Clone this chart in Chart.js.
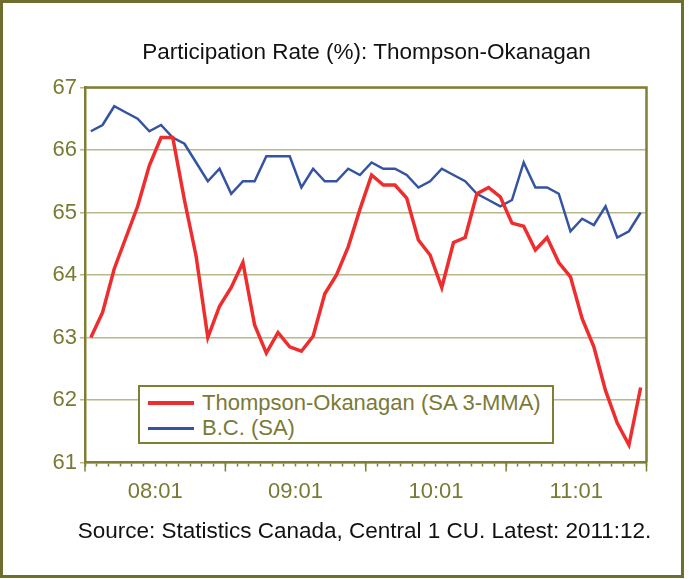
<!DOCTYPE html>
<html>
<head>
<meta charset="utf-8">
<script src="https://cdn.jsdelivr.net/npm/chart.js@4.4.1/dist/chart.umd.min.js"></script>
<style>
    body { margin: 0; background: #fff; }
    #wrap { position: relative; width: 693px; height: 579px; font-family: "Liberation Sans", Arial, sans-serif; }
    #frame { position: absolute; left: 0; top: 0; width: 684px; height: 578px; box-sizing: border-box; border: 3px solid #6e6e2e; pointer-events: none; }
    #chart { position: absolute; left: 0; top: 0; }
    .txt { position: absolute; left: 0; text-align: center; color: #111; font-size: 22.5px; line-height: 26px; white-space: nowrap; }
    #title { top: 39px; width: 733px; }
    #source { top: 518px; width: 729px; }
    #legend { position: absolute; left: 138px; top: 385px; width: 416px; height: 59px; box-sizing: border-box; border: 2px solid #7f7f34; background: #fff; }
    .row { position: absolute; left: 0; height: 26px; line-height: 26px; font-size: 22px; color: #7a7a35; white-space: nowrap; }
    .row span { position: absolute; left: 8px; top: 11px; width: 46px; }
    .row b { position: absolute; left: 62px; font-weight: normal; }
</style>
</head>
<body>
<div id="wrap">
    <canvas id="chart" width="693" height="579"></canvas>
    <div id="title" class="txt">Participation Rate (%): Thompson-Okanagan</div>
    <div id="legend">
        <div class="row" style="top:3px"><span style="height:4px;background:#ee2e2e;top:11px"></span><b>Thompson-Okanagan (SA 3-MMA)</b></div>
        <div class="row" style="top:28px"><span style="height:2.5px;background:#3553a3;top:12px"></span><b>B.C. (SA)</b></div>
    </div>
    <div id="source" class="txt">Source: Statistics Canada, Central 1 CU. Latest: 2011:12.</div>
    <div id="frame"></div>
</div>
<script>
// monthly, 2008:01 .. 2011:12
const thompsonOkanagan = [
    63.0, 63.4, 64.1, 64.6, 65.1, 65.75, 66.2, 66.2, 65.2, 64.3, 63.0, 63.5,
    63.8, 64.2, 63.2, 62.75, 63.08, 62.85, 62.78, 63.02, 63.7, 64.0, 64.45, 65.05,
    65.6, 65.44, 65.44, 65.23, 64.56, 64.32, 63.8, 64.52, 64.6, 65.3, 65.4, 65.25,
    64.83, 64.78, 64.4, 64.6, 64.2, 63.97, 63.3, 62.85, 62.15, 61.63, 61.28, 62.2
];
const bcRate = [
    66.3, 66.4, 66.7, 66.6, 66.5, 66.3, 66.4, 66.2, 66.1, 65.8, 65.5, 65.7,
    65.3, 65.5, 65.5, 65.9, 65.9, 65.9, 65.4, 65.7, 65.5, 65.5, 65.7, 65.6,
    65.8, 65.7, 65.7, 65.6, 65.4, 65.5, 65.7, 65.6, 65.5, 65.3, 65.2, 65.1,
    65.2, 65.8, 65.4, 65.4, 65.3, 64.7, 64.9, 64.8, 65.1, 64.6, 64.7, 65.0
];
const yearLabels = ['08:01', '09:01', '10:01', '11:01'];
const yTicks = [61, 62, 63, 64, 65, 66, 67];

const OLIVE = '#7f7f34';
const TICK_TEXT = '#7a7a35';
const GRID = '#b8b88a';
const FONT = '"Liberation Sans", Arial, sans-serif';

const toPoints = arr => arr.map((v, i) => ({ x: i, y: v }));
const nMonths = bcRate.length;

// box on top/right of plot + longer year ticks
const plotExtras = {
    id: 'plotExtras',
    afterDraw(chart) {
        const { ctx, chartArea: a, scales } = chart;
        ctx.save();
        ctx.strokeStyle = OLIVE;
        ctx.lineWidth = 2.5;
        ctx.beginPath();
        ctx.moveTo(a.left, a.top);
        ctx.lineTo(a.right, a.top);
        ctx.lineTo(a.right, a.bottom);
        ctx.stroke();
        ctx.lineWidth = 1.5;
        for (let k = 0; k <= nMonths; k += 12) {
            const px = scales.x.getPixelForValue(k - 0.5);
            ctx.beginPath();
            ctx.moveTo(px, a.bottom);
            ctx.lineTo(px, a.bottom + 9);
            ctx.stroke();
        }
        ctx.restore();
    }
};

new Chart(document.getElementById('chart'), {
    type: 'line',
    data: {
        datasets: [
            {
                label: 'B.C. (SA)',
                data: toPoints(bcRate),
                borderColor: '#3553a3',
                borderWidth: 2.5,
                pointRadius: 0,
                tension: 0,
                order: 2
            },
            {
                label: 'Thompson-Okanagan (SA 3-MMA)',
                data: toPoints(thompsonOkanagan),
                borderColor: '#ee2e2e',
                borderWidth: 3.5,
                pointRadius: 0,
                tension: 0,
                order: 1
            }
        ]
    },
    options: {
        responsive: false,
        animation: false,
        layout: { padding: { left: 0, right: 46.5, top: 87.5, bottom: 76.5 } },
        plugins: { legend: { display: false }, title: { display: false }, tooltip: { enabled: false } },
        scales: {
            x: {
                type: 'linear',
                min: -0.5,
                max: nMonths - 0.5,
                afterBuildTicks: s => {
                    const t = [];
                    for (let i = 0; i <= nMonths; i++) t.push({ value: i - 0.5 });
                    s.ticks = t;
                },
                afterFit: s => { s.height = 40; },
                ticks: {
                    autoSkip: false,
                    maxRotation: 0,
                    padding: 12,
                    color: TICK_TEXT,
                    font: { family: FONT, size: 22 },
                    callback: v => {
                        const k = v + 0.5 - 6;
                        return (k % 12 === 0 && k >= 0) ? yearLabels[k / 12] : '';
                    }
                },
                grid: { drawOnChartArea: false, drawTicks: true, tickLength: 4, tickColor: OLIVE, tickWidth: 1.5 },
                border: { color: OLIVE, width: 2.5 }
            },
            y: {
                min: 61,
                max: 67,
                afterBuildTicks: s => { s.ticks = yTicks.map(v => ({ value: v })); },
                afterFit: s => { s.width = 85; },
                ticks: {
                    padding: 3,
                    color: TICK_TEXT,
                    font: { family: FONT, size: 22 }
                },
                grid: { color: GRID, lineWidth: 1.5, tickLength: 5, tickColor: GRID },
                border: { color: OLIVE, width: 2.5 }
            }
        }
    },
    plugins: [plotExtras]
});
</script>
</body>
</html>
